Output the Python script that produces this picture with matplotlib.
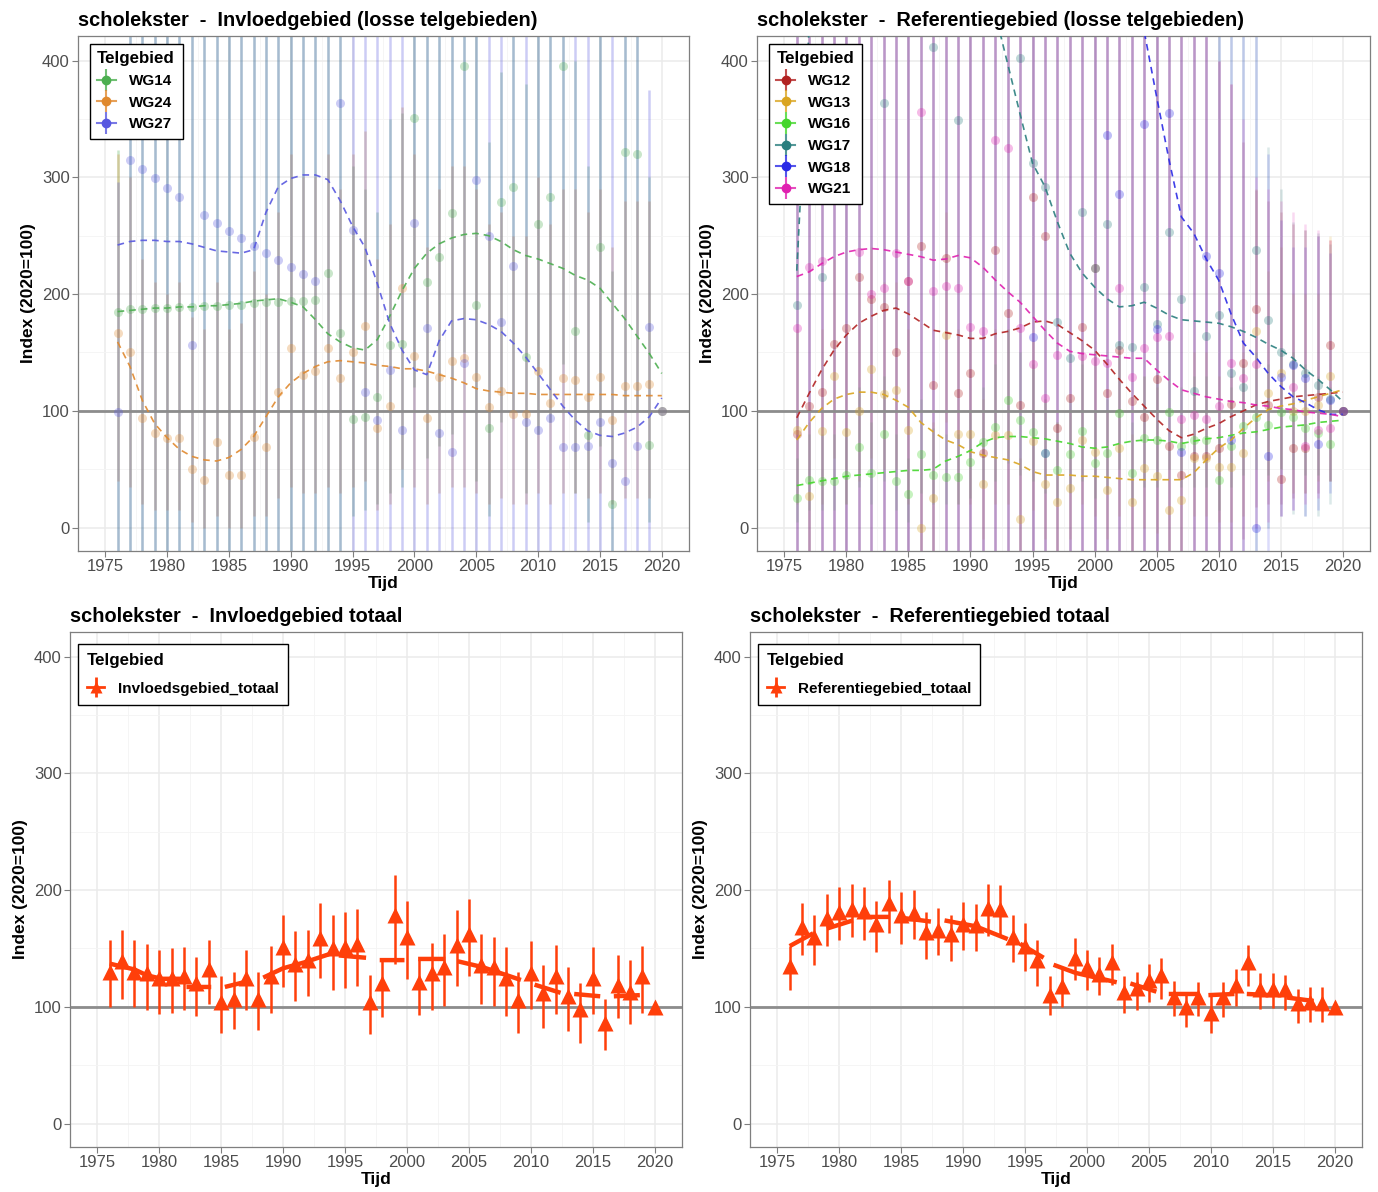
import numpy as np
import matplotlib
matplotlib.use('Agg')
import matplotlib.pyplot as plt
from matplotlib.lines import Line2D
from matplotlib.legend_handler import HandlerTuple

plt.rcParams['font.family'] = ['Liberation Sans', 'DejaVu Sans']

nan = np.nan
years = list(range(1976, 2021))

# Invloedgebied (losse telgebieden) ##################################################
wg14 = [185, 187, 187, 188, 188, 189, 189, 190, 190, 191, 191, 192, 193, 193, 194, 194, 195, 218, 167, 93,
        95, 112, 156, 157, 351, 210, 232, 269, 395, 191, 85, 279, 292, 146, 260, 283, 395, 168, 79, 240,
        20, 322, 320, 71, 100]
wg14_lo = [-50, -50, -50, -50, -50, -50, -50, -50, -50, -50, -50, -50, -50, -50, -50, -50, -50, -50, -50, 10,
           15, 20, 30, 35, 120, 60, 70, 80, 150, 40, 10, 90, 100, 30, 80, 90, 140, 30, 5, 70,
           -50, 100, 100, 5, 100]
wg14_hi = [323, 500, 500, 500, 500, 500, 500, 500, 500, 500, 500, 500, 500, 500, 500, 500, 500, 500, 500, 310,
           290, 270, 350, 355, 500, 500, 500, 500, 500, 500, 330, 390, 500, 380, 500, 500, 500, 400, 310, 500,
           220, 500, 500, 300, 100]
wg14_trend = [185, 186, 187, 188, 188, 189, 189, 190, 190, 191, 192, 194, 195, 196, 193, 189, 178, 166, 159, 154,
              152, 161, 181, 203, 222, 235, 243, 248, 251, 252, 250, 245, 238, 233, 230, 226, 222, 216, 212, 205,
              192, 179, 164, 149, 132]

wg24 = [167, 150, 94, 81, 77, 77, 50, 41, 73, 45, 45, 78, 69, 116, 154, 131, 134, 154, 128, 150,
        173, 85, 104, 205, 147, 94, 129, 143, 145, 129, 103, 117, 97, 97, 134, 107, 128, 126, 112, 129,
        92, 121, 121, 123, 100]
wg24_lo = [40, 35, 20, 15, 15, 15, 5, 0, 10, 0, 0, 10, 10, 25, 35, 30, 30, 35, 30, 35,
           40, 15, 20, 50, 35, 20, 30, 35, 35, 30, 20, 25, 20, 20, 30, 20, 30, 30, 25, 30,
           20, 25, 25, 25, 100]
wg24_hi = [320, 300, 230, 210, 200, 210, 180, 170, 210, 170, 175, 220, 200, 270, 320, 300, 300, 320, 290, 320,
           340, 230, 260, 360, 320, 240, 290, 310, 310, 290, 260, 270, 250, 250, 300, 260, 290, 290, 270, 290,
           240, 280, 280, 280, 100]
wg24_trend = [159, 138, 109, 89, 77, 67, 61, 58, 57, 60, 67, 78, 95, 112, 124, 132, 138, 142, 143, 142,
              141, 139, 138, 136, 136, 134, 131, 128, 124, 119, 117, 116, 115, 115, 114, 114, 114, 114, 114, 114,
              114, 113, 113, 113, 113]

wg27 = [99, 315, 307, 299, 291, 283, 156, 268, 261, 254, 248, 241, 235, 229, 223, 217, 211, nan, 364, 255,
        116, 92, 135, 84, 261, 171, 81, 65, 141, 298, 250, 176, 224, 90, 84, 94, 69, 69, 70, 90,
        55, 40, 70, 172, 100]
wg27_lo = [-50] * 44 + [100]
wg27_hi = [296] + [500] * 42 + [375, 100]
wg27_trend = [242, 245, 246, 246, 245, 245, 243, 240, 237, 236, 235, 238, 270, 292, 299, 302, 302, 298, 280, 258,
              240, 209, 175, 152, 135, 131, 160, 177, 179, 178, 174, 168, 158, 146, 132, 118, 104, 92, 83, 79,
              78, 81, 86, 95, 111]

# Referentiegebied (losse telgebieden) ###############################################
wg12 = [80, 104, 116, 157, 171, 215, 196, 189, 150, 211, 241, 122, 231, 115, 132, 64, 238, 184, 105, 283,
        250, 85, 111, 172, 222, 115, 152, 108, 95, 127, 70, 45, 61, 61, 68, 106, 141, 187, 105, 42,
        68, 68, 112, 156, 100]
wg12_lo = [-50] * 35 + [-20, -10, 18, 20, 20, 25, 30, 30, 40, 100]
wg12_hi = [500] * 33 + [420, 400, 380, 330, 289, 280, 270, 260, 255, 250, 246, 100]
wg12_trend = [94, 115, 135, 152, 165, 175, 181, 186, 188, 183, 176, 169, 167, 165, 162, 162, 166, 168, 171, 176,
              177, 174, 167, 160, 152, 140, 127, 115, 104, 93, 83, 77, 80, 85, 89, 95, 100, 105, 108, 110,
              112, 113, 114, 115, 116]

wg13 = [84, 27, 83, 130, 82, 100, 136, 114, 118, 84, 0, 25, 165, 80, 80, 37, 79, 79, 7, 74,
        37, 22, 34, 75, 65, 32, 68, 22, 51, 44, 15, 24, 60, 60, 52, 52, 64, 168, 115, 132,
        100, 100, 105, 130, 100]
wg13_lo = [20, -20, 20, 60, 20, 40, 60, 50, 50, 20, -30, -20, 90, 20, 20, -10, 20, 20, -30, 15,
           -10, -20, -10, 20, 10, -10, 10, -20, 0, -5, -30, -20, 10, 10, 5, 5, 10, 80, 40, 50,
           30, 30, 40, 40, 100]
wg13_hi = [170, 90, 170, 230, 170, 210, 240, 210, 210, 170, 60, 90, 270, 170, 170, 110, 170, 170, 60, 160,
           110, 90, 100, 160, 150, 100, 150, 80, 130, 120, 70, 90, 150, 150, 130, 130, 150, 290, 220, 240,
           200, 200, 200, 250, 100]
wg13_trend = [75, 90, 102, 110, 114, 116, 116, 114, 109, 103, 90, 82, 75, 71, 65, 62, 60, 58, 54, 48,
              45, 45, 45, 44, 44, 43, 42, 41, 41, 41, 41, 41, 47, 58, 68, 75, 85, 94, 101, 104,
              106, 109, 112, 115, 118]

wg16 = [25, 41, 40, 40, 45, 69, 47, 80, 40, 29, 63, 45, 43, 43, 56, 73, 86, 109, 92, 82,
        64, 49, 63, 83, 55, 64, 98, 47, 77, 75, 99, 70, 75, 75, 41, 70, 87, 95, 88, 99,
        95, 85, 81, 72, 100]
wg16_lo = [5, 15, 15, 15, 20, 35, 20, 40, 15, 5, 30, 20, 20, 20, 25, 35, 40, 55, 45, 40,
           30, 20, 30, 40, 25, 30, 50, 20, 35, 35, 50, 35, 35, 35, 15, 35, 45, 50, 45, 50,
           50, 45, 45, 40, 100]
wg16_hi = [60, 80, 80, 80, 85, 120, 90, 130, 80, 60, 110, 85, 80, 80, 100, 120, 140, 170, 150, 140,
           110, 90, 110, 140, 100, 110, 160, 90, 130, 130, 160, 120, 130, 130, 80, 120, 140, 150, 140, 150,
           150, 140, 130, 120, 100]
wg16_trend = [36, 38, 40, 42, 44, 45, 46, 47, 48, 49, 49, 50, 57, 61, 66, 73, 77, 78, 78, 77,
              76, 74, 72, 69, 68, 69, 72, 74, 75, 75, 74, 72, 74, 76, 77, 79, 81, 82, 84, 86,
              87, 88, 90, 91, 92]

wg17 = [191, nan, 215, nan, nan, nan, nan, 364, nan, nan, nan, 412, nan, 349, nan, nan, nan, nan, 402, 312,
        292, 176, 145, 270, 222, 260, 156, 155, 206, 174, 253, 196, 117, 164, 182, 132, 120, 238, 178, 150,
        140, 132, 122, 110, 100]
wg17_lo = [-50] * 37 + [-30, 0, 10, 12, 10, 10, 20, 100]
wg17_hi = [500] * 38 + [326, 290, 262, 255, 252, 243, 100]
wg17_trend = [220, 430, 520, 580, 620, 640, 650, 650, 640, 620, 600, 580, 560, 540, 510, 480, 440, 397, 354, 312,
              292, 262, 235, 218, 206, 196, 189, 190, 193, 188, 182, 178, 177, 176, 175, 172, 168, 163, 157, 152,
              145, 135, 127, 118, 108]

wg18 = [nan] * 19 + [163, 64, nan, nan, nan, nan, 336, 286, nan, 346, 170, 355, 65, nan, 233, 218, 75, nan,
                     0, 61, 129, 139, 128, 72, 109, 100]
wg18_lo = [-50] * 39 + [10, 15, 10, 15, 30, 100]
wg18_hi = [500] * 38 + [320, 263, 240, 240, 250, 235, 100]
wg18_trend = [nan] * 27 + [460, 425, 369, 315, 266, 252, 230, 212, 183, 158, 146, 132, 121, 112, 107, 101, 97, 97]

wg21 = [171, 223, 228, nan, nan, 236, 200, 205, 235, 211, 356, 203, 207, 205, 172, 168, 332, 325, 171, 140,
        111, 148, nan, 147, 143, 141, 205, 129, 154, 163, 164, 93, 96, 93, 104, 141, 128, 140, nan, nan,
        120, 70, 84, 85, 100]
wg21_lo = [-50] * 33 + [-30, -30, -20, -20, 0, 5, 10, 15, 20, 25, 40, 100]
wg21_hi = [500] * 33 + [430, 400, 380, 350, 300, 290, 280, 270, 260, 255, 246, 100]
wg21_trend = [215, 219, 226, 232, 236, 238, 239, 238, 236, 234, 232, 229, 230, 233, 231, 223, 212, 202, 193, 181,
              169, 158, 151, 149, 148, 147, 146, 145, 145, 135, 126, 118, 115, 112, 110, 108, 107, 105, 104, 102,
              101, 99, 98, 97, 95]

# Invloedgebied totaal ###############################################################
inv_tot = [130, 139, 130, 129, 125, 125, 126, 120, 132, 104, 107, 125, 107, 126, 151, 137, 140, 159, 150, 151,
           154, 104, 120, 179, 160, 121, 129, 134, 153, 162, 136, 134, 125, 106, 129, 112, 126, 109, 98, 125,
           86, 119, 113, 126, 100]
inv_lo = [100, 107, 100, 97, 94, 95, 97, 92, 102, 78, 81, 97, 80, 95, 117, 105, 109, 125, 114, 116,
          118, 77, 91, 137, 124, 93, 97, 101, 118, 126, 102, 101, 92, 78, 98, 82, 94, 79, 69, 94,
          63, 90, 85, 95, 100]
inv_hi = [157, 166, 157, 154, 149, 150, 151, 143, 157, 126, 130, 149, 130, 152, 179, 165, 166, 189, 179, 181,
          184, 127, 142, 213, 191, 140, 155, 162, 183, 192, 162, 160, 151, 130, 156, 136, 153, 134, 120, 151,
          107, 144, 140, 152, 100]
inv_trend_x = [1976.0, 1978.0, 1979.0, 1980.2, 1981.9, nan, 1982.2, 1984.2, nan, 1985.3, 1987.2, nan,
               1988.4, 1990.0, 1991.7, 1993.7, nan, 1994.5, 1996.7, nan, 1997.8, 1999.8, nan, 2000.9, 2003.1, nan,
               2004.1, 2006.1, 2009.2, nan, 2010.3, 2012.4, nan, 2013.5, 2015.6, nan, 2016.7, 2018.8]
inv_trend_y = [137, 132, 127, 124, 124, nan, 117, 117, nan, 117, 122, nan,
               125, 133, 138, 145, nan, 144, 142, nan, 140, 140, nan, 141, 141, nan,
               139, 134, 123, nan, 119, 112, nan, 111, 109, nan, 109, 110]

# Referentiegebied totaal ############################################################
ref_tot = [135, 168, 160, 176, 181, 184, 182, 171, 189, 179, 180, 164, 166, 162, 171, 170, 185, 184, 160, 152,
           140, 110, 118, 142, 134, 128, 138, 113, 116, 123, 127, 108, 100, 108, 95, 108, 119, 138, 115, 115,
           115, 103, 104, 103, 100]
ref_lo = [114, 144, 136, 152, 157, 160, 157, 147, 163, 154, 158, 141, 144, 139, 149, 148, 161, 161, 138, 131,
          118, 93, 100, 123, 114, 110, 119, 95, 97, 104, 107, 92, 83, 92, 78, 91, 101, 118, 98, 99,
          97, 86, 87, 87, 100]
ref_hi = [152, 189, 179, 197, 203, 205, 203, 191, 209, 198, 200, 181, 185, 179, 190, 188, 205, 204, 179, 172,
          157, 126, 133, 159, 149, 143, 154, 126, 130, 137, 142, 122, 113, 121, 109, 121, 132, 153, 129, 129,
          127, 115, 117, 117, 100]
ref_trend_x = [1976.0, 1977.9, nan, 1979.0, 1981.1, nan, 1982.1, 1984.1, nan, 1985.2, 1987.4, nan,
               1988.5, 1991.0, 1993.6, nan, 1994.6, 1996.5, nan, 1997.3, 1999.1, 2002.4, nan, 2003.5, 2005.6, nan,
               2006.6, 2008.9, nan, 2009.8, 2011.9, nan, 2012.9, 2015.0, nan, 2016.1, 2018.3]
ref_trend_y = [152, 163, nan, 167, 174, nan, 177, 177, nan, 176, 173, nan,
               174, 169, 158, nan, 154, 142, nan, 136, 129, 121, nan, 120, 113, nan,
               111, 111, nan, 110, 111, nan, 111, 110, nan, 108, 105]

RED = '#FF3F0A'


def base(ax, title):
    ax.set_xlim(1972.8, 2022.2)
    ax.set_ylim(-20, 421)
    ax.set_xticks(range(1975, 2021, 5))
    ax.set_xticks(np.arange(1977.5, 2021, 5), minor=True)
    ax.set_yticks([0, 100, 200, 300, 400])
    ax.set_yticks([50, 150, 250, 350], minor=True)
    ax.grid(which='major', color='#EBEBEB', lw=1.1)
    ax.grid(which='minor', color='#F4F4F4', lw=0.6)
    ax.set_axisbelow(True)
    for s in ax.spines.values():
        s.set_color('#7F7F7F')
        s.set_linewidth(0.9)
    ax.tick_params(which='major', colors='#7F7F7F', labelcolor='#4D4D4D', labelsize=12, length=4, pad=2)
    ax.tick_params(which='minor', length=0)
    ax.set_xlabel('Tijd', fontsize=12.5, fontweight='bold', labelpad=1)
    ax.set_ylabel('Index (2020=100)', fontsize=12.5, fontweight='bold', labelpad=4)
    ax.set_title(title, loc='left', fontsize=14.4, fontweight='bold', pad=7)


def losse(ax, series, title, bar_alpha):
    base(ax, title)
    for name, val, lo, hi, tr, col in series:
        ax.vlines(years, lo, hi, color=col, lw=1.8, alpha=bar_alpha, zorder=2)
    ax.axhline(100, color='#8C8C8C', lw=2, zorder=2.5)
    for name, val, lo, hi, tr, col in series:
        ax.plot(years, val, 'o', color=col, ms=6.5, alpha=0.3, mec='none', zorder=3)
    for name, val, lo, hi, tr, col in series:
        ax.plot(years, tr, color=col, lw=1.2, ls=(0, (4, 3)), alpha=0.9, zorder=4)
    handles = []
    for name, val, lo, hi, tr, col in series:
        h = (Line2D([], [], color=col, lw=1.5, alpha=0.8),
             Line2D([], [], color=col, marker='|', ms=16, mew=1.5, ls='none', alpha=0.8),
             Line2D([], [], color=col, marker='o', ms=6, ls='none'))
        handles.append(h)
    leg = ax.legend(handles, [s[0] for s in series], handler_map={tuple: HandlerTuple(ndivide=1)},
                    loc='upper left', bbox_to_anchor=(0.019, 0.985), borderaxespad=0, title='Telgebied',
                    prop={'weight': 'bold', 'size': 11}, title_fontproperties={'weight': 'bold', 'size': 12.2},
                    alignment='left', fancybox=False, edgecolor='black', framealpha=1,
                    handlelength=1.2, handletextpad=0.9, labelspacing=0.5, borderpad=0.5)
    leg.get_frame().set_linewidth(1.0)
    leg.set_zorder(10)


def totaal(ax, val, lo, hi, tx, ty, label, title):
    base(ax, title)
    ax.axhline(100, color='#8C8C8C', lw=2, zorder=1.5)
    ax.vlines(years, lo, hi, color=RED, lw=1.8, zorder=2)
    ax.plot(tx, ty, color=RED, lw=3.2, solid_capstyle='butt', zorder=3)
    ax.plot(years, val, '^', color=RED, ms=11, mec='none', zorder=4)
    h = (Line2D([], [], color=RED, lw=2),
         Line2D([], [], color=RED, marker='|', ms=14, mew=2, ls='none'),
         Line2D([], [], color=RED, marker='^', ms=9, ls='none', mec='none'))
    leg = ax.legend([h], [label], handler_map={tuple: HandlerTuple(ndivide=1)},
                    loc='upper left', bbox_to_anchor=(0.013, 0.977), borderaxespad=0, title='Telgebied',
                    prop={'weight': 'bold', 'size': 11}, title_fontproperties={'weight': 'bold', 'size': 12.2},
                    alignment='left', fancybox=False, edgecolor='black', framealpha=1,
                    handlelength=1.1, handletextpad=0.9, labelspacing=0.9, borderpad=0.6)
    leg.get_frame().set_linewidth(1.0)


fig = plt.figure(figsize=(13.78, 11.92), dpi=100)
ax1 = fig.add_axes([0.0566, 0.5378, 0.4434, 0.432])
ax2 = fig.add_axes([0.5494, 0.5378, 0.4448, 0.432])
ax3 = fig.add_axes([0.0508, 0.0378, 0.4441, 0.432])
ax4 = fig.add_axes([0.5443, 0.0378, 0.4441, 0.432])

losse(ax1, [('WG14', wg14, wg14_lo, wg14_hi, wg14_trend, '#4CAF50'),
            ('WG24', wg24, wg24_lo, wg24_hi, wg24_trend, '#E0892E'),
            ('WG27', wg27, wg27_lo, wg27_hi, wg27_trend, '#5858E0')],
      'scholekster  -  Invloedgebied (losse telgebieden)', 0.3)

losse(ax2, [('WG12', wg12, wg12_lo, wg12_hi, wg12_trend, '#B22222'),
            ('WG13', wg13, wg13_lo, wg13_hi, wg13_trend, '#DAA520'),
            ('WG16', wg16, wg16_lo, wg16_hi, wg16_trend, '#44D62C'),
            ('WG17', wg17, wg17_lo, wg17_hi, wg17_trend, '#2A7F7F'),
            ('WG18', wg18, wg18_lo, wg18_hi, wg18_trend, '#2A2AE6'),
            ('WG21', wg21, wg21_lo, wg21_hi, wg21_trend, '#E020B0')],
      'scholekster  -  Referentiegebied (losse telgebieden)', 0.17)

totaal(ax3, inv_tot, inv_lo, inv_hi, inv_trend_x, inv_trend_y, 'Invloedsgebied_totaal',
       'scholekster  -  Invloedgebied totaal')
totaal(ax4, ref_tot, ref_lo, ref_hi, ref_trend_x, ref_trend_y, 'Referentiegebied_totaal',
       'scholekster  -  Referentiegebied totaal')

fig.savefig('out.png', dpi=100)
